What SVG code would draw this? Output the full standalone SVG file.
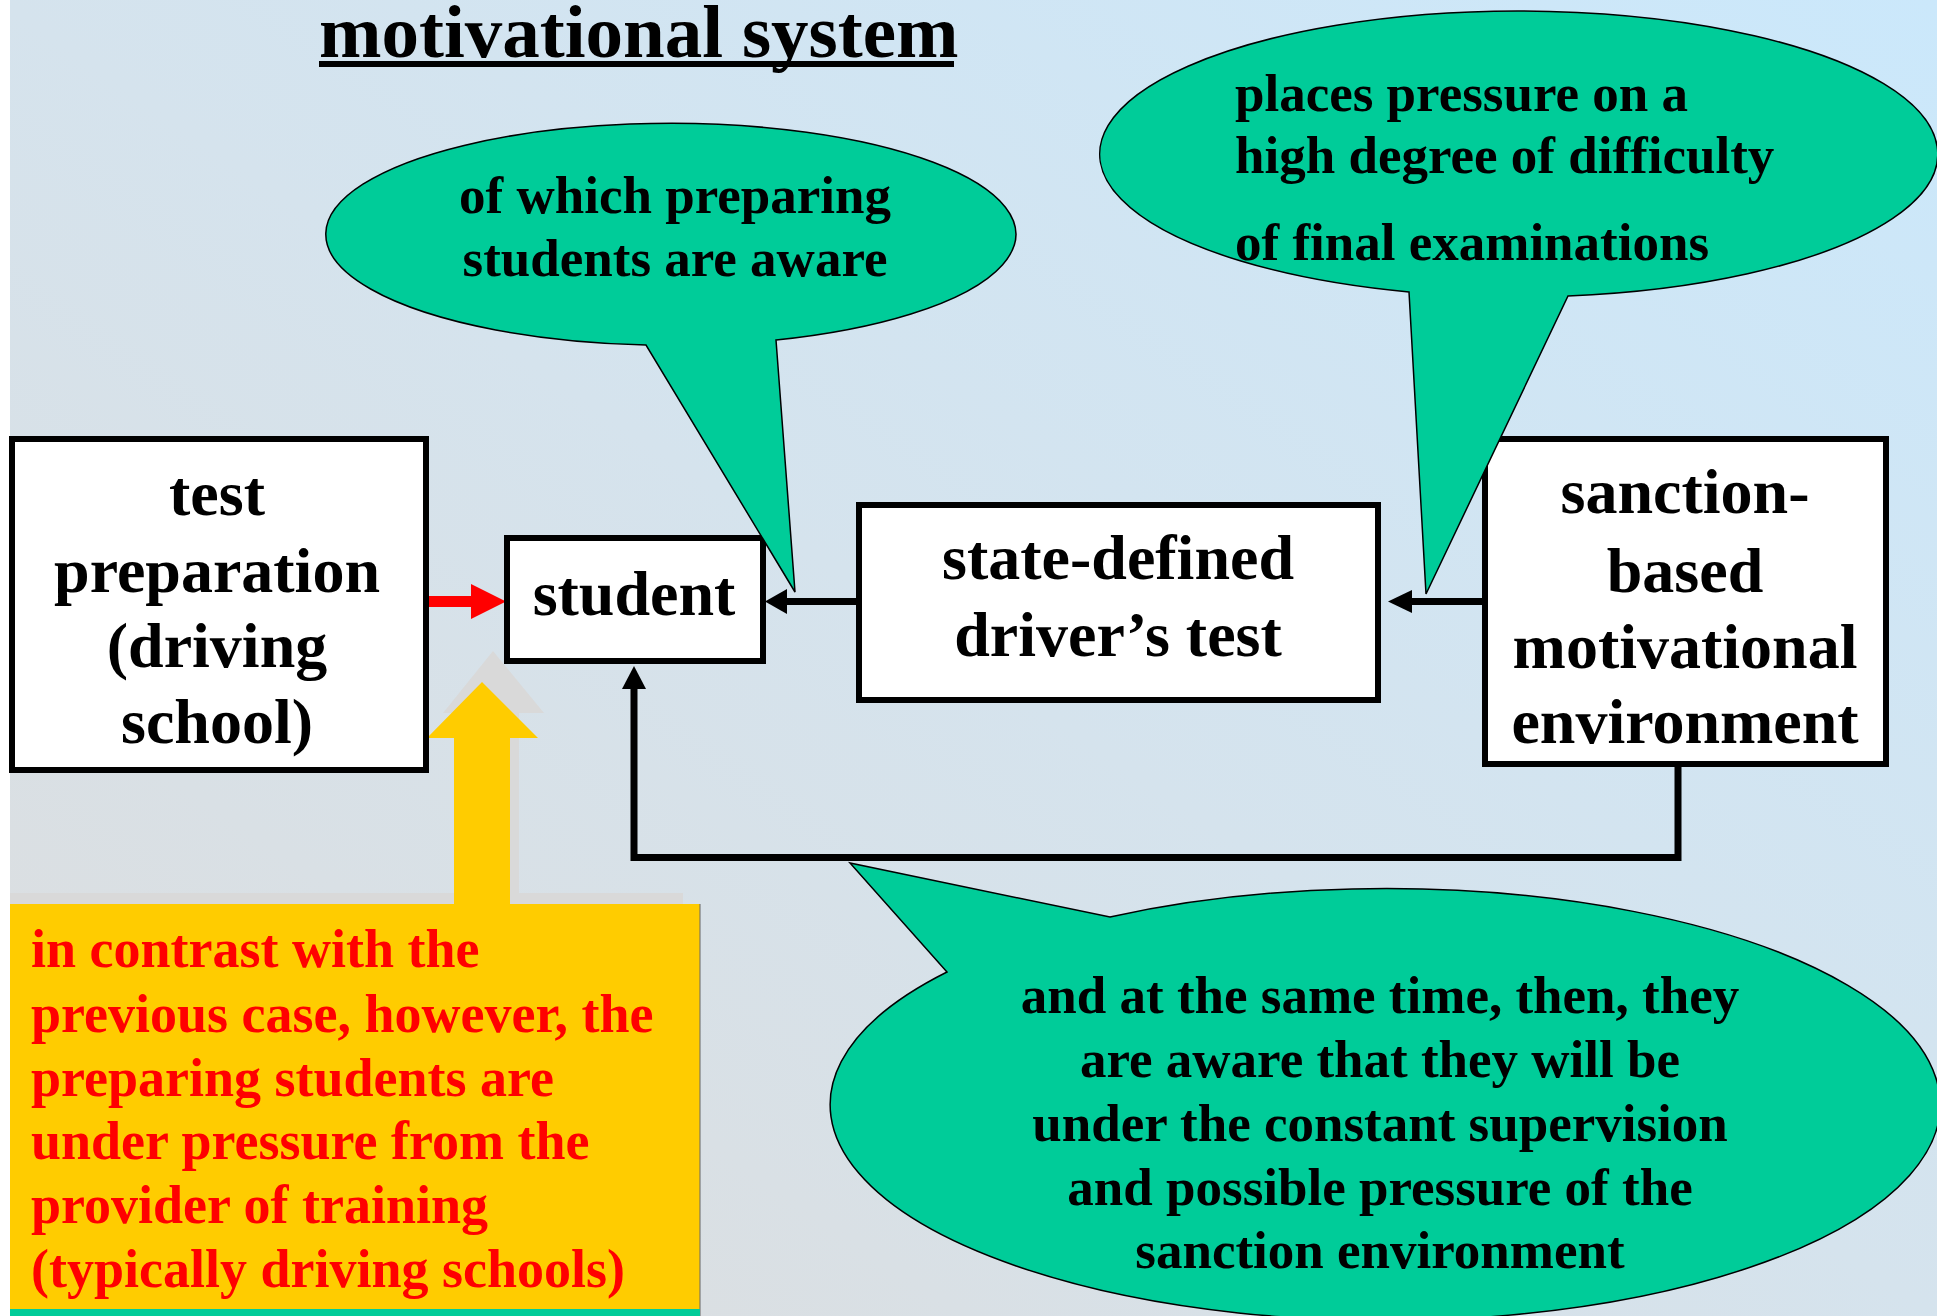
<svg xmlns="http://www.w3.org/2000/svg" width="1937" height="1316" viewBox="0 0 1937 1316">
<defs>
<linearGradient id="bg" x1="0" y1="1" x2="1" y2="0">
<stop offset="0" stop-color="#dddddd"/>
<stop offset="0.5" stop-color="#d5e3ed"/>
<stop offset="1" stop-color="#cbe8fb"/>
</linearGradient>
<style>
.t{font-family:"Liberation Serif","Times New Roman",serif;font-weight:bold;}
.box{fill:#ffffff;stroke:#000000;stroke-width:6;}
.bt{font-size:64px;fill:#000000;text-anchor:middle;}
.call{fill:#00cc99;stroke:#000000;stroke-width:1.5;stroke-linejoin:miter;}
.ct{font-size:53px;fill:#000000;}
.mid{text-anchor:middle;}
.conn{fill:none;stroke:#000000;stroke-width:7;}
.yt{font-size:54px;fill:#ff0000;}
</style>
</defs>
<rect x="0" y="0" width="1937" height="1316" fill="url(#bg)"/>
<rect x="0" y="0" width="10" height="1316" fill="#ffffff"/>

<g id="title">
<text class="t" x="319" y="57" font-size="75">motivational system</text>
<rect x="319" y="61" width="635" height="6" fill="#000000"/>
</g>

<g id="connectors">
<polygon points="426,596 471,596 471,584 506,601.5 471,619 471,607 426,607" fill="#ff0000"/>
<line class="conn" x1="859" y1="601.5" x2="785" y2="601.5"/>
<polygon points="765,601.5 787,589 787,614" fill="#000000"/>
<line class="conn" x1="1485" y1="601.5" x2="1410" y2="601.5"/>
<polygon points="1388,601.5 1412,590 1412,613" fill="#000000"/>
<polyline class="conn" points="1678,763 1678,857.5 634,857.5 634,687"/>
<polygon points="634,666 622,689 646,689" fill="#000000"/>
</g>

<g id="yellow-note">
<rect x="10" y="893" width="673" height="30" fill="#d9d9d9"/>
<polygon points="463,900 463,713 443,713 493,651 544,713 519,713 519,900" fill="#d9d9d9"/>
<polygon points="454,910 454,738 427,738 482,682 538,738 510,738 510,910" fill="#ffcc00"/>
<rect x="10" y="904" width="690" height="412" fill="#ffcc00"/>
<line x1="700" y1="904" x2="700" y2="1316" stroke="#666666" stroke-width="1"/>
<rect x="10" y="1309" width="690" height="7" fill="#00cc99"/>
<text class="t yt" x="31" y="967">in contrast with the</text>
<text class="t yt" x="31" y="1032">previous case, however, the</text>
<text class="t yt" x="31" y="1096">preparing students are</text>
<text class="t yt" x="31" y="1159">under pressure from the</text>
<text class="t yt" x="31" y="1223">provider of training</text>
<text class="t yt" x="31" y="1287">(typically driving schools)</text>
</g>

<g id="test-preparation">
<rect class="box" x="12" y="439" width="414" height="331"/>
<text class="t bt" x="217" y="515">test</text>
<text class="t bt" x="217" y="592">preparation</text>
<text class="t bt" x="217" y="667">(driving</text>
<text class="t bt" x="217" y="743">school)</text>
</g>

<g id="student">
<rect class="box" x="507" y="538" width="256" height="123"/>
<text class="t bt" x="634" y="615">student</text>
</g>

<g id="state-test">
<rect class="box" x="859" y="505" width="519" height="195"/>
<text class="t bt" x="1118" y="579">state-defined</text>
<text class="t bt" x="1118" y="656">driver’s test</text>
</g>

<g id="sanction-env">
<rect class="box" x="1485" y="439" width="401" height="325"/>
<text class="t bt" x="1685" y="513">sanction-</text>
<text class="t bt" x="1685" y="592">based</text>
<text class="t bt" x="1685" y="668">motivational</text>
<text class="t bt" x="1685" y="743">environment</text>
</g>

<g id="callout-aware">
<path class="call" d="M 776 340 A 345 111 0 1 0 646 345 L 795 592 Z"/>
<text class="t ct mid" x="675" y="213">of which preparing</text>
<text class="t ct mid" x="675" y="276">students are aware</text>
</g>

<g id="callout-difficulty">
<path class="call" d="M 1568 296 A 419 143 0 1 0 1409 292 L 1426 594 Z"/>
<text class="t ct" x="1235" y="111">places pressure on a</text>
<text class="t ct" x="1235" y="173">high degree of difficulty</text>
<text class="t ct" x="1235" y="260">of final examinations</text>
</g>

<g id="callout-supervision">
<path class="call" d="M 1110 917 A 555 216 0 1 1 947 972 L 850 863 Z"/>
<text class="t ct mid" x="1380" y="1013">and at the same time, then, they</text>
<text class="t ct mid" x="1380" y="1077">are aware that they will be</text>
<text class="t ct mid" x="1380" y="1141">under the constant supervision</text>
<text class="t ct mid" x="1380" y="1205">and possible pressure of the</text>
<text class="t ct mid" x="1380" y="1268">sanction environment</text>
</g>
</svg>
